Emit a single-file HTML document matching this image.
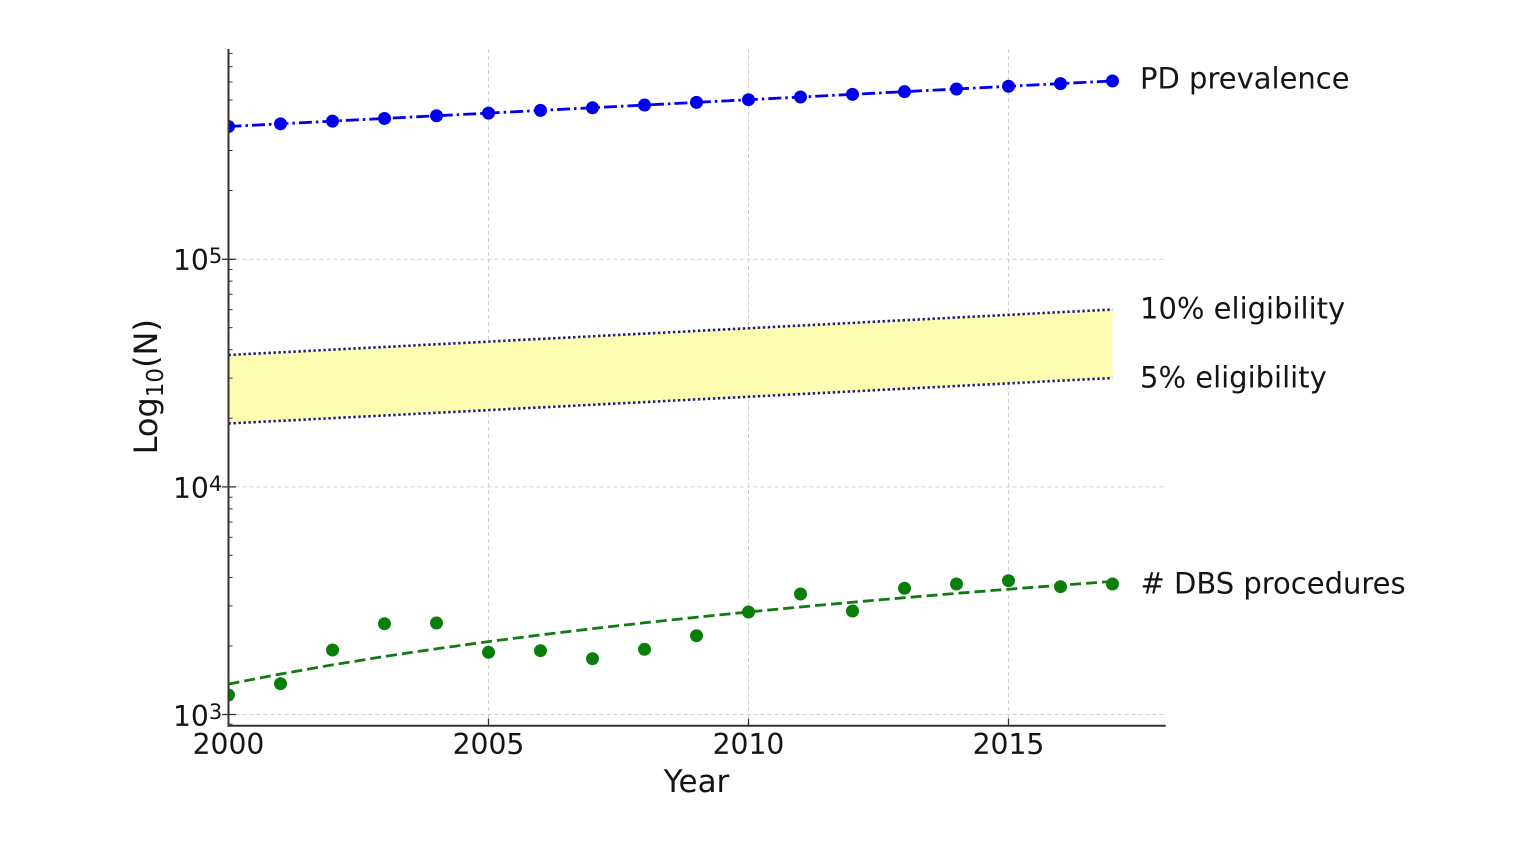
<!DOCTYPE html>
<html><head><meta charset="utf-8"><style>
html,body{margin:0;padding:0;background:#fff;}
svg{display:block;}
text{font-family:"DejaVu Sans","Liberation Sans",sans-serif;fill:#141414;}
</style></head><body>
<svg width="1540" height="866" viewBox="0 0 1540 866" xmlns="http://www.w3.org/2000/svg">
<defs><clipPath id="ax"><rect x="228.5" y="49" width="937" height="677"/></clipPath></defs>
<rect width="1540" height="866" fill="#fff"/>
<!-- grid -->
<g stroke="#cfcfcf" stroke-width="1" stroke-dasharray="4 3" fill="none">
<line x1="488.5" y1="49" x2="488.5" y2="725.7"/>
<line x1="748.5" y1="49" x2="748.5" y2="725.7"/>
<line x1="1008.5" y1="49" x2="1008.5" y2="725.7"/>
<line x1="228.5" y1="259.3" x2="1165.7" y2="259.3"/>
<line x1="228.5" y1="486.9" x2="1165.7" y2="486.9"/>
<line x1="228.5" y1="714.5" x2="1165.7" y2="714.5"/>
</g>
<g clip-path="url(#ax)">
<!-- eligibility band -->
<polygon points="228.5,355 1112.5,309.5 1112.5,378 228.5,423.5" fill="#fdfdb2"/>
<g stroke="#1c1c86" stroke-width="2.6" stroke-dasharray="2.4 2.6" fill="none">
<line x1="228.5" y1="355" x2="1112.5" y2="309.5"/>
<line x1="228.5" y1="423.5" x2="1112.5" y2="378"/>
</g>
<!-- PD prevalence -->
<polyline fill="none" stroke="#0000ee" stroke-width="2.8" stroke-dasharray="13 4 2.5 4" points="228.5,126.5 1112.5,80.94"/>
<g fill="#0000ee">
<circle cx="228.5" cy="126.5" r="6.5"/><circle cx="280.5" cy="123.82" r="6.5"/><circle cx="332.5" cy="121.14" r="6.5"/><circle cx="384.5" cy="118.46" r="6.5"/><circle cx="436.5" cy="115.78" r="6.5"/><circle cx="488.5" cy="113.1" r="6.5"/><circle cx="540.5" cy="110.42" r="6.5"/><circle cx="592.5" cy="107.74" r="6.5"/><circle cx="644.5" cy="105.06" r="6.5"/><circle cx="696.5" cy="102.38" r="6.5"/><circle cx="748.5" cy="99.7" r="6.5"/><circle cx="800.5" cy="97.02" r="6.5"/><circle cx="852.5" cy="94.34" r="6.5"/><circle cx="904.5" cy="91.66" r="6.5"/><circle cx="956.5" cy="88.98" r="6.5"/><circle cx="1008.5" cy="86.3" r="6.5"/><circle cx="1060.5" cy="83.62" r="6.5"/><circle cx="1112.5" cy="80.94" r="6.5"/>
</g>
<!-- DBS trend -->
<polyline fill="none" stroke="#127a12" stroke-width="2.8" stroke-dasharray="11 5" points="228.5,684.09 280.5,674.01 332.5,664.86 384.5,656.48 436.5,648.76 488.5,641.6 540.5,634.92 592.5,628.67 644.5,622.79 696.5,617.24 748.5,611.98 800.5,606.99 852.5,602.23 904.5,597.7 956.5,593.36 1008.5,589.21 1060.5,585.23 1112.5,581.39"/>
<g fill="#0a7d0a">
<circle cx="228.5" cy="695" r="6.5"/><circle cx="280.5" cy="683.7" r="6.5"/><circle cx="332.5" cy="650" r="6.5"/><circle cx="384.5" cy="623.7" r="6.5"/><circle cx="436.5" cy="623" r="6.5"/><circle cx="488.5" cy="652.3" r="6.5"/><circle cx="540.5" cy="650.7" r="6.5"/><circle cx="592.5" cy="658.7" r="6.5"/><circle cx="644.5" cy="649.3" r="6.5"/><circle cx="696.5" cy="635.7" r="6.5"/><circle cx="748.5" cy="612" r="6.5"/><circle cx="800.5" cy="594" r="6.5"/><circle cx="852.5" cy="611" r="6.5"/><circle cx="904.5" cy="588.3" r="6.5"/><circle cx="956.5" cy="584" r="6.5"/><circle cx="1008.5" cy="580.7" r="6.5"/><circle cx="1060.5" cy="586.7" r="6.5"/><circle cx="1112.5" cy="584" r="6.5"/>
</g>
</g>
<!-- spines -->
<g stroke="#333" stroke-width="2" fill="none">
<line x1="228.5" y1="49" x2="228.5" y2="726.7"/>
<line x1="227.5" y1="725.7" x2="1165.7" y2="725.7"/>
</g>
<!-- ticks -->
<g stroke="#333" stroke-width="1.3">
<line x1="488.5" y1="725.7" x2="488.5" y2="718.5"/>
<line x1="748.5" y1="725.7" x2="748.5" y2="718.5"/>
<line x1="1008.5" y1="725.7" x2="1008.5" y2="718.5"/>
<line x1="222" y1="259.3" x2="236" y2="259.3"/>
<line x1="222" y1="486.9" x2="236" y2="486.9"/>
<line x1="222" y1="714.5" x2="236" y2="714.5"/>
</g>
<g stroke="#333" stroke-width="1">
<line x1="228.5" x2="232.5" y1="645.96" y2="645.96"/><line x1="228.5" x2="232.5" y1="605.86" y2="605.86"/><line x1="228.5" x2="232.5" y1="577.41" y2="577.41"/><line x1="228.5" x2="232.5" y1="555.34" y2="555.34"/><line x1="228.5" x2="232.5" y1="537.32" y2="537.32"/><line x1="228.5" x2="232.5" y1="522.07" y2="522.07"/><line x1="228.5" x2="232.5" y1="508.87" y2="508.87"/><line x1="228.5" x2="232.5" y1="497.22" y2="497.22"/>
<line x1="228.5" x2="232.5" y1="418.26" y2="418.26"/><line x1="228.5" x2="232.5" y1="378.16" y2="378.16"/><line x1="228.5" x2="232.5" y1="349.71" y2="349.71"/><line x1="228.5" x2="232.5" y1="327.64" y2="327.64"/><line x1="228.5" x2="232.5" y1="309.62" y2="309.62"/><line x1="228.5" x2="232.5" y1="294.37" y2="294.37"/><line x1="228.5" x2="232.5" y1="281.17" y2="281.17"/><line x1="228.5" x2="232.5" y1="269.52" y2="269.52"/>
<line x1="228.5" x2="232.5" y1="190.56" y2="190.56"/><line x1="228.5" x2="232.5" y1="150.46" y2="150.46"/><line x1="228.5" x2="232.5" y1="122.01" y2="122.01"/><line x1="228.5" x2="232.5" y1="99.94" y2="99.94"/><line x1="228.5" x2="232.5" y1="81.92" y2="81.92"/><line x1="228.5" x2="232.5" y1="66.67" y2="66.67"/><line x1="228.5" x2="232.5" y1="53.47" y2="53.47"/>
<line x1="228.5" x2="232.5" y1="724.2" y2="724.2"/>
</g>
<!-- tick labels -->
<g font-size="28.2" text-anchor="middle">
<text x="228.5" y="754">2000</text>
<text x="488.5" y="754">2005</text>
<text x="748.5" y="754">2010</text>
<text x="1008.5" y="754">2015</text>
</g>
<g font-size="28.2">
<text x="173" y="270">10<tspan font-size="21" dy="-7">5</tspan></text>
<text x="173" y="498">10<tspan font-size="21" dy="-7">4</tspan></text>
<text x="173" y="726">10<tspan font-size="21" dy="-7">3</tspan></text>
</g>
<!-- axis labels -->
<text x="696.5" y="792" font-size="31" text-anchor="middle">Year</text>
<text transform="translate(157,386.7) rotate(-90)" font-size="32" text-anchor="middle">Log<tspan font-size="23" dy="6">10</tspan><tspan dy="-6">(N)</tspan></text>
<!-- series labels -->
<g font-size="29">
<text x="1140" y="88.5">PD prevalence</text>
<text x="1140" y="318.5">10% eligibility</text>
<text x="1140" y="387.3">5% eligibility</text>
<text x="1140.5" y="593.5"># DBS procedures</text>
</g>
</svg>
</body></html>
